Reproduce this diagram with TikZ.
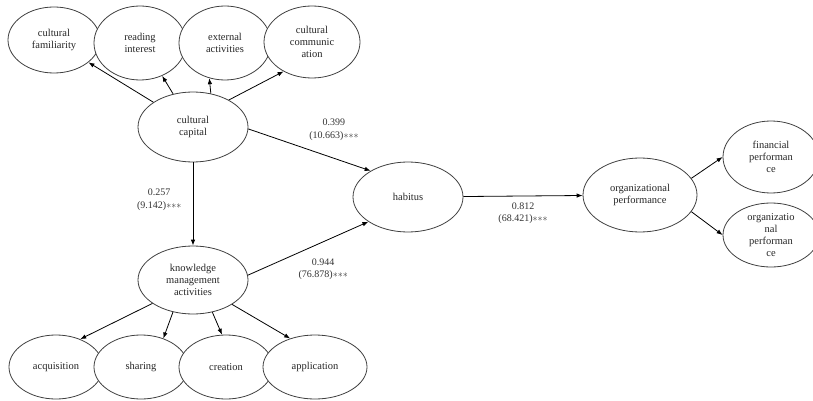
\documentclass[tikz,border=0pt]{standalone}
\usepackage{fontspec}
\setmainfont{Liberation Serif}
\usetikzlibrary{arrows.meta,shapes.geometric}

\begin{document}
\begin{tikzpicture}[
  x=1pt, y=-1pt,
  latent/.style={draw=black!75,ellipse,fill=white,inner sep=0pt,align=center,line width=0.8pt,font=\fontsize{10.5}{12}\selectfont,text=black!85},
  small/.style={latent,minimum width=92pt,minimum height=70pt},
  big/.style={latent,minimum width=110pt,minimum height=70pt},
  arrow/.style={-{Latex[length=6pt,width=4.5pt]},line width=0.8pt},
  coef/.style={align=center,font=\fontsize{10}{12.5}\selectfont,text=black!80}
]
\useasboundingbox (0,0) rectangle (813,401);

\node[small, minimum height=66pt] (CF) at (54,40) {cultural\\familiarity};
\node[small, minimum height=74pt] (RI) at (140,43) {reading\\interest};
\node[small, minimum height=74pt] (EA) at (225,43) {external\\activities};
\node[small, minimum width=96pt, minimum height=72pt] (CC) at (312,42) {cultural\\communic\\ation};

\node[big] (CAP) at (193,127) {cultural\\capital};
\node[big] (HAB) at (408,197) {habitus};
\node[big, minimum height=68pt] (KMA) at (193,280) {knowledge\\management\\activities};
\node[big, minimum width=114pt, minimum height=74pt] (OP) at (640,195) {organizational\\performance};

\node[small, minimum width=94pt, minimum height=64pt] (ACQ) at (56,367) {acquisition};
\node[small, minimum width=94pt, minimum height=64pt] (SHA) at (141,367) {sharing};
\node[small, minimum width=94pt, minimum height=64pt] (CRE) at (226,367) {creation};
\node[small, minimum width=104pt, minimum height=64pt] (APP) at (315,367) {application};

\node[small, minimum width=96pt, minimum height=72pt] (FP) at (771,157) {financial\\performan\\ce};
\node[small, minimum width=96pt, minimum height=64pt] (OP2) at (771,235) {organizatio\\nal\\performan\\ce};

\draw[arrow] (CAP.148) -- (CF.-33);
\draw[arrow] (CAP.121) -- (RI.-56);
\draw[arrow] (CAP.62) -- (EA.-114);
\draw[arrow] (CAP.37) -- (CC.-134);

\draw[arrow] (CAP) -- node[coef,pos=0.45,left=8pt] {0.257\\(9.142)${\ast}{\ast}{\ast}$} (KMA);
\draw[arrow] (CAP.-2) -- node[coef,pos=0.7,above=14pt] {0.399\\(10.663)${\ast}{\ast}{\ast}$} (HAB.145);
\draw[arrow] (KMA.5) -- node[coef,pos=0.625,below=13pt] {0.944\\(76.878)${\ast}{\ast}{\ast}$} (HAB.212);
\draw[arrow] (HAB) -- node[coef,below=3pt] {0.812\\(68.421)${\ast}{\ast}{\ast}$} (OP);

\draw[arrow] (OP.18) -- (FP.west);
\draw[arrow] (OP.-18) -- (OP2.west);

\draw[arrow] (KMA.210) -- (ACQ.49);
\draw[arrow] (KMA.238) -- (SHA.52);
\draw[arrow] (KMA.-59) -- (CRE.97);
\draw[arrow] (KMA.-32) -- (APP.131);
\end{tikzpicture}
\end{document}
